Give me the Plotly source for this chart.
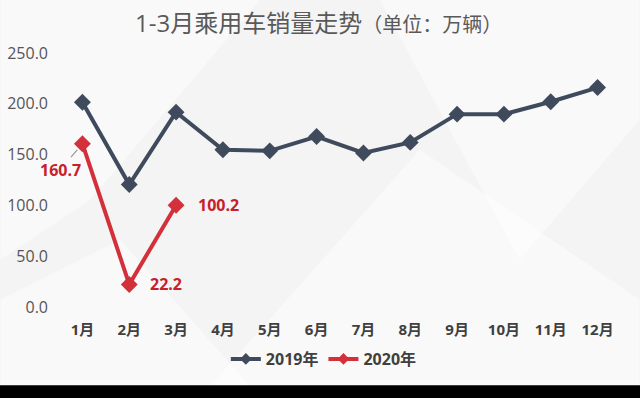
import plotly.graph_objects as go

months = ["1月", "2月", "3月", "4月", "5月", "6月", "7月", "8月", "9月", "10月", "11月", "12月"]
sales_2019 = [201.5, 120.5, 191.8, 154.7, 153.7, 167.8, 151.6, 162.0, 189.8, 189.8, 202.0, 216.0]
months_2020 = ["1月", "2月", "3月"]
sales_2020 = [160.7, 22.2, 100.2]
y_ticks = [0, 50, 100, 150, 200, 250]

C19 = "#3f4b5c"
C20 = "#d3303b"
LBL = "#c8202b"
FONT = "Open Sans, Noto Sans CJK SC, sans-serif"

W, H = 640, 398
L, R, T, B = 58.5, 18.5, 53, 90.5
ph = H - T - B

fig = go.Figure()
fig.add_trace(go.Scatter(x=months, y=sales_2019, name="2019年", mode="lines+markers",
                         line=dict(color=C19, width=4), showlegend=False, legendgroup="a",
                         marker=dict(symbol="diamond", size=13, color=C19)))
fig.add_trace(go.Scatter(x=months_2020, y=sales_2020, name="2020年", mode="lines+markers",
                         line=dict(color=C20, width=4), showlegend=False, legendgroup="b",
                         marker=dict(symbol="diamond", size=13, color=C20)))
fig.add_trace(go.Scatter(x=[None], y=[None], name="2019年", mode="lines+markers", legendgroup="a",
                         line=dict(color=C19, width=4), marker=dict(symbol="diamond", size=9, color=C19)))
fig.add_trace(go.Scatter(x=[None], y=[None], name="2020年", mode="lines+markers", legendgroup="b",
                         line=dict(color=C20, width=4), marker=dict(symbol="diamond", size=9, color=C20)))

ann = []
ann.append(dict(x=months_2020[0], y=sales_2020[0], text=f"{sales_2020[0]:.1f}", showarrow=True,
                arrowhead=0, arrowwidth=1.2, arrowcolor="#9a9a9a", ax=-22, ay=26, standoff=8,
                font=dict(family=FONT, size=16, color=LBL, weight="bold")))
for i, dx in [(1, 37), (2, 42)]:
    ann.append(dict(x=months_2020[i], y=sales_2020[i], text=f"{sales_2020[i]:.1f}", showarrow=False,
                    xshift=dx, font=dict(family=FONT, size=16, color=LBL, weight="bold")))

def py(ypix):
    return (H - B - ypix) / ph

def px(xpix):
    return (xpix - L) / (W - L - R)

shapes = []
polys = [
    [(0, 0), (260, 0), (90, 200), (0, 260)],
    [(380, 0), (640, 0), (640, 120), (520, 260)],
    [(200, 398), (420, 150), (640, 300), (640, 398)],
    [(0, 300), (120, 240), (260, 398), (0, 398)],
]
for poly in polys:
    path = "M " + " L ".join(f"{px(x):.4f},{py(y):.4f}" for x, y in poly) + " Z"
    shapes.append(dict(type="path", xref="paper", yref="paper", path=path,
                       fillcolor="rgba(255,255,255,0.45)", line=dict(width=0), layer="below"))
shapes.append(dict(type="rect", xref="paper", yref="paper", x0=-0.2, x1=1.2, y0=py(386), y1=py(420),
                   fillcolor="#000000", line=dict(width=0), layer="above"))

fig.update_layout(
    width=W, height=H,
    margin=dict(l=L, r=R, t=T, b=B, autoexpand=False),
    paper_bgcolor="#f4f4f4", plot_bgcolor="rgba(0,0,0,0)",
    title=dict(text="1-3月乘用车销量走势<span style='font-size:20px'>（单位：万辆）</span>",
               xref="container", x=135 / W, xanchor="left", yref="container", y=1 - 24 / H, yanchor="middle",
               font=dict(family=FONT, size=24, color="#595959")),
    xaxis=dict(type="category", categoryorder="array", categoryarray=months, range=[-0.5, 11.5],
               automargin=False,
               showgrid=False, zeroline=False, showline=False, ticks="", ticklabelstandoff=12,
               tickfont=dict(family=FONT, size=15, color="#404040", weight="bold")),
    yaxis=dict(range=[0, 250], tickvals=y_ticks, ticktext=[f"{v:.1f}" for v in y_ticks],
               automargin=False,
               showgrid=False, zeroline=False, showline=False, ticks="", ticklabelstandoff=10,
               tickfont=dict(family=FONT, size=16, color="#555555")),
    legend=dict(orientation="h", xref="container", x=0.506, xanchor="center", yref="container",
                y=1 - 359 / H, yanchor="middle", bgcolor="rgba(0,0,0,0)",
                font=dict(family=FONT, size=16, color="#404040", weight="bold"), itemwidth=30),
    annotations=ann, shapes=shapes, showlegend=True, hovermode=False,
)
fig.write_html("out.html", config={"displayModeBar": False},
               post_script="document.body.style.margin='0';document.body.style.overflow='hidden';")
